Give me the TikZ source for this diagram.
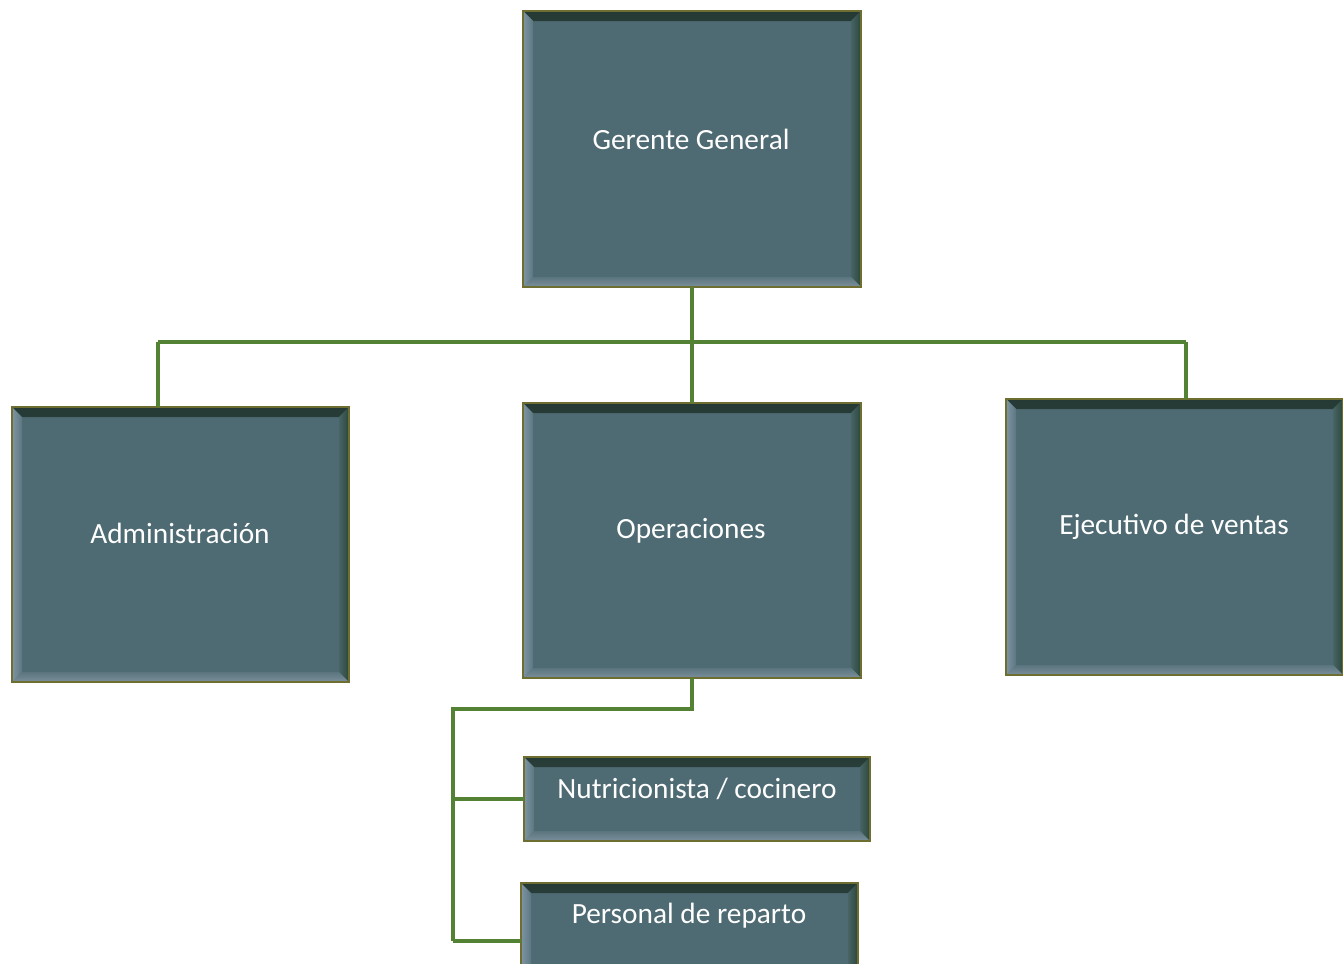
\documentclass[tikz,border=0pt]{standalone}
\usepackage{fontspec}
\setmainfont{Carlito}
\usepackage{tikz}

\definecolor{boxfill}{HTML}{4E6A72}
\definecolor{boxedge}{HTML}{6E6E30}
\definecolor{bevtop}{HTML}{263A35}
\definecolor{bevright}{HTML}{2C4838}
\definecolor{bevleft}{HTML}{7E95A4}
\definecolor{bevbottom}{HTML}{7A8F9C}
\definecolor{linkgreen}{HTML}{548235}

\tikzset{
  orgbox/.style={draw=boxedge, line width=1.1pt, fill=boxfill, anchor=north west,
    inner sep=0pt, outer sep=0pt,
    path picture={
      \shade[top color=bevtop, bottom color=boxfill!80!bevtop]
        (path picture bounding box.north west) -- (path picture bounding box.north east)
        -- ([xshift=-7.5pt,yshift=-7.5pt]path picture bounding box.north east)
        -- ([xshift=7.5pt,yshift=-7.5pt]path picture bounding box.north west) -- cycle;
      \shade[right color=bevright, left color=boxfill!80!bevright]
        (path picture bounding box.north east) -- (path picture bounding box.south east)
        -- ([xshift=-7.5pt,yshift=7.5pt]path picture bounding box.south east)
        -- ([xshift=-7.5pt,yshift=-7.5pt]path picture bounding box.north east) -- cycle;
      \shade[bottom color=bevbottom, top color=boxfill!70!bevbottom]
        (path picture bounding box.south east) -- (path picture bounding box.south west)
        -- ([xshift=7.5pt,yshift=7.5pt]path picture bounding box.south west)
        -- ([xshift=-7.5pt,yshift=7.5pt]path picture bounding box.south east) -- cycle;
      \shade[left color=bevleft, right color=boxfill!70!bevleft]
        (path picture bounding box.south west) -- (path picture bounding box.north west)
        -- ([xshift=7.5pt,yshift=-7.5pt]path picture bounding box.north west)
        -- ([xshift=7.5pt,yshift=7.5pt]path picture bounding box.south west) -- cycle;
    }},
  boxtext/.style={text=white, font=\fontsize{22}{26}\selectfont, inner sep=0pt},
  link/.style={draw=linkgreen, line width=2.3pt}
}

\begin{document}
\begin{tikzpicture}[x=0.75pt,y=0.75pt,yscale=-1,xscale=1]
\useasboundingbox (0,0) rectangle (1343,964);
\clip (0,0) rectangle (1343,964);

% Boxes
\node[orgbox, minimum width=253.5pt, minimum height=207pt] (gg) at (523,11) {};
\node[orgbox, minimum width=252.75pt, minimum height=206.25pt] (adm) at (12,407) {};
\node[orgbox, minimum width=253.5pt, minimum height=206.25pt] (ops) at (523,403) {};
\node[orgbox, minimum width=252.75pt, minimum height=207pt] (eje) at (1006,399) {};
\node[orgbox, minimum width=259.5pt, minimum height=63pt] (nut) at (524,757) {};
\node[orgbox, minimum width=252.75pt, minimum height=87pt] (per) at (521,883) {};

% Text
\node[boxtext] (ggt) at (691,139) {Gerente General};
\node[boxtext] (admt) at (180,533) {Administración};
\node[boxtext] (opst) at (691,531) {Operaciones};
\node[boxtext] (ejet) at (1174,527) {Ejecutivo de ventas};
\node[boxtext] (nutt) at (697,789) {Nutricionista / cocinero};
\node[boxtext] (pert) at (689,916) {Personal de reparto};

% Connections
\coordinate (busl) at (158,342);
\coordinate (busr) at (1186,342);
\coordinate (sub) at (453,709);
\draw[link] (gg.south) -- (ops.north);
\draw[link] (busl) -- (busr);
\draw[link] (busl) -- (busl |- adm.north);
\draw[link] (busr) -- (busr |- eje.north);
\draw[link] (ops.south) |- (sub) -- (sub |- per.west);
\draw[link] (sub |- nut.west) -- (nut.west);
\draw[link] (sub |- per.west) -- (per.west);

\end{tikzpicture}
\end{document}
